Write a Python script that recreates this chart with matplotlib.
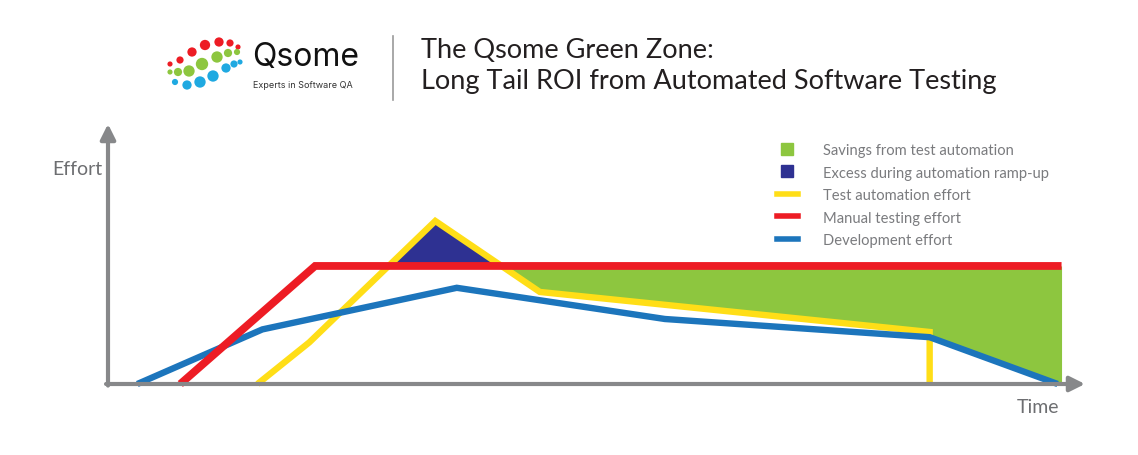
import numpy as np
import matplotlib
matplotlib.use("Agg")
import matplotlib.pyplot as plt
from matplotlib.lines import Line2D

# ---- data (arbitrary effort/time units, axes 0..100) ----
dev_x = [3.0, 15.8, 35.7, 57.0, 84.1, 97.2]
dev_y = [0.0, 21.0, 37.0, 25.0, 18.0, 0.0]

manual_x = [7.4, 21.2, 97.6]
manual_y = [0.0, 45.4, 45.4]

auto_x = [15.3, 20.6, 33.5, 44.2, 84.1, 84.1]
auto_y = [0.0, 16.0, 62.7, 35.4, 20.0, 0.0]

legend_labels = ["Savings from test automation", "Excess during automation ramp-up",
                 "Test automation effort", "Manual testing effort", "Development effort"]

title_lines = ["The Qsome Green Zone:", "Long Tail ROI from Automated Software Testing"]

# logo dots (figure pixel coords of a decorative logo)
logo_red_x = [170, 180, 192, 205, 219, 230, 238]
logo_red_y = [65, 61, 53, 46, 43, 44, 48]
logo_red_s = [5, 7, 9, 10, 9, 7, 5]
logo_green_x = [170, 178, 189, 202, 217, 228, 237]
logo_green_y = [73, 73, 72, 65, 58, 54, 53]
logo_green_s = [5, 8, 11, 12, 11, 8, 6]
logo_blue_x = [175, 187, 200, 213, 226, 234, 240]
logo_blue_y = [83, 86, 83, 77, 69, 65, 63]
logo_blue_s = [6, 9, 11, 11, 9, 7, 5]

RED = "#ED1C24"
YEL = "#FFDE17"
BLU = "#1C75BC"
NAVY = "#2E3192"
GRN = "#8DC63F"
GRAY = "#87888A"
TXT = "#6D6E71"

W, H = 1138, 456
fig = plt.figure(figsize=(W / 100, H / 100), dpi=100)
fig.patch.set_facecolor("white")
plt.rcParams["font.family"] = ["Lato", "DejaVu Sans"]

ax = fig.add_axes([108 / W, (H - 385) / H, 977 / W, 260 / H])
ax.set_xlim(0, 100)
ax.set_ylim(0, 100)
ax.axis("off")

# ---- fills ----
xs_all = np.unique(np.concatenate([dev_x, manual_x, auto_x[:-1]]))
auto_i = np.interp(xs_all, auto_x[:-1], auto_y[:-1], left=0, right=0)
man_i = np.interp(xs_all, manual_x, manual_y, left=0, right=0)

ax.fill_between(xs_all, man_i, auto_i, where=auto_i > man_i, interpolate=True,
                color=NAVY, lw=0, zorder=1)

peak_x = auto_x[int(np.argmax(auto_y))]
xs_g = np.unique(np.concatenate([xs_all, [auto_x[-1] + 1e-6]]))
xs_g = xs_g[(xs_g >= peak_x) & (xs_g <= manual_x[-1])]
lo = np.maximum(np.interp(xs_g, auto_x[:-1], auto_y[:-1], left=0, right=0),
                np.interp(xs_g, dev_x, dev_y, left=0, right=0))
hi = np.interp(xs_g, manual_x, manual_y)
ax.fill_between(xs_g, lo, hi, where=hi >= lo, interpolate=True, color=GRN, lw=0, zorder=1)

# ---- lines ----
ax.plot(auto_x, auto_y, color=YEL, lw=4.6, solid_joinstyle="miter", solid_capstyle="butt",
        zorder=3, clip_on=False)
ax.plot(dev_x, dev_y, color=BLU, lw=4.6, solid_joinstyle="miter", solid_capstyle="butt",
        zorder=4, clip_on=False)
ax.plot(manual_x, manual_y, color=RED, lw=5.6, solid_joinstyle="miter", solid_capstyle="butt",
        zorder=5, clip_on=False)

# ---- axes arrows ----
ax.annotate("", xy=(100, 0), xytext=(-0.2, 0),
            arrowprops=dict(arrowstyle="-|>,head_length=0.9,head_width=0.45",
                            color=GRAY, lw=3, shrinkA=0, shrinkB=0), zorder=6,
            annotation_clip=False)
ax.annotate("", xy=(0, 100), xytext=(0, -0.6),
            arrowprops=dict(arrowstyle="-|>,head_length=0.9,head_width=0.45",
                            color=GRAY, lw=3, shrinkA=0, shrinkB=0), zorder=6,
            annotation_clip=False)

fig.text(52 / W, 1 - 170 / H, "Effort", fontsize=14, color=TXT, va="center", ha="left")
fig.text(1059 / W, 1 - 408 / H, "Time", fontsize=14, color=TXT, va="center", ha="right")

# ---- legend ----
handles = [
    Line2D([], [], marker="s", ms=8, color=GRN, ls=""),
    Line2D([], [], marker="s", ms=8, color=NAVY, ls=""),
    Line2D([], [], color=YEL, lw=4),
    Line2D([], [], color=RED, lw=4),
    Line2D([], [], color=BLU, lw=4),
]
fig.legend(handles, legend_labels, loc="upper left", bbox_to_anchor=(777 / W, 1 - 144 / H),
           frameon=False, labelcolor="#7A7B7E", handlelength=1.4,
           handletextpad=1.75, labelspacing=0.58, borderaxespad=0, borderpad=0,
           prop={"family": ["Lato", "DejaVu Sans"], "size": 10.6})

# ---- header ----
fig.text(421 / W, 1 - 51 / H, title_lines[0], fontsize=19.5, color="#231F20", va="center",
         ha="left")
fig.text(421 / W, 1 - 82 / H, title_lines[1], fontsize=19.5, color="#231F20", va="center",
         ha="left")
fig.add_artist(Line2D([393 / W, 393 / W], [1 - 37 / H, 1 - 101 / H], color="#9A9A9A", lw=1.2))

lax = fig.add_axes([0, 0, 1, 1], zorder=-1)
lax.set_xlim(0, W)
lax.set_ylim(H, 0)
lax.axis("off")
lax.scatter(logo_red_x, logo_red_y, s=np.array(logo_red_s) ** 2 * 0.55, color=RED, lw=0)
lax.scatter(logo_green_x, logo_green_y, s=np.array(logo_green_s) ** 2 * 0.55, color=GRN, lw=0)
lax.scatter(logo_blue_x, logo_blue_y, s=np.array(logo_blue_s) ** 2 * 0.55, color="#1FA9E1", lw=0)
lax.text(252, 57, "Qsome", fontsize=23, color="#111111", va="center", ha="left",
         family=["Inter", "DejaVu Sans"])
lax.text(253, 85, "Experts in Software QA", fontsize=6.5, color="#333333", va="center",
         ha="left", family=["Inter", "DejaVu Sans"])

fig.savefig("out.png", dpi=100, facecolor="white")
